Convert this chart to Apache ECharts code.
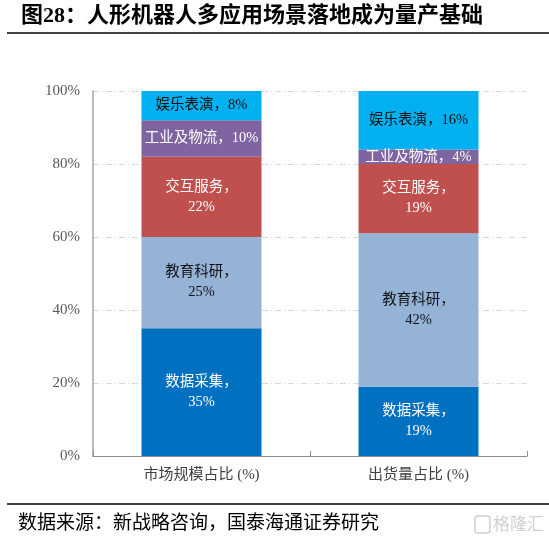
<!DOCTYPE html>
<html>
<head>
<meta charset="utf-8">
<script src="https://cdn.jsdelivr.net/npm/echarts@6/dist/echarts.min.js"></script>
<style>
  html, body { margin: 0; padding: 0; background: #fff; }
  #chart { width: 549px; height: 548px; }
</style>
</head>
<body>
<div id="chart"></div>
<script>
const categories = ["市场规模占比 (%)", "出货量占比 (%)"];
const segmentNames = ["数据采集", "教育科研", "交互服务", "工业及物流", "娱乐表演"];
const dataCollection = [35, 19];
const education = [25, 42];
const interaction = [22, 19];
const logistics = [10, 4];
const entertainment = [8, 16];
const yTicks = [0, 20, 40, 60, 80, 100];

const segmentValues = [dataCollection, education, interaction, logistics, entertainment];
const segmentColors = ["#0070C0", "#95B3D7", "#C0504D", "#8064A2", "#00B0F0"];
const labelColors = ["#ffffff", "#111111", "#ffffff", "#ffffff", "#111111"];
// small segments get their label on one line
const oneLine = [false, false, false, true, true];

const serif = "'Liberation Serif', 'Noto Sans CJK SC', serif";

const renderChart = () => {
  const chart = echarts.init(document.getElementById("chart"));

  const series = segmentNames.map((name, i) => ({
    name: name,
    type: "bar",
    stack: "total",
    barWidth: 120,
    data: segmentValues[i],
    itemStyle: { color: segmentColors[i] },
    label: {
      show: true,
      position: "inside",
      color: labelColors[i],
      fontFamily: serif,
      fontSize: 14.5,
      lineHeight: 20,
      formatter: (p) => p.seriesName + "，" + (oneLine[i] ? "" : "\n") + p.value + "%",
    },
  }));

  const option = {
    animation: false,
    grid: {
      left: 93,
      right: 22,
      top: 91,
      bottom: 92,
      containLabel: false,
      outerBoundsMode: "none",
    },
    xAxis: {
      type: "category",
      data: categories,
      axisLine: { lineStyle: { color: "#8c8c8c", width: 1 } },
      axisTick: { show: true, inside: true, length: 5, lineStyle: { color: "#8c8c8c" } },
      axisLabel: {
        color: "#404040",
        fontFamily: serif,
        fontSize: 15,
        margin: 12,
      },
    },
    yAxis: {
      type: "value",
      min: yTicks[0],
      max: yTicks[yTicks.length - 1],
      interval: 20,
      axisLine: { show: true, lineStyle: { color: "#a6a6a6", width: 1.5 } },
      axisTick: { show: false },
      axisLabel: {
        color: "#595959",
        fontFamily: serif,
        fontSize: 15,
        margin: 13,
        formatter: "{value}%",
      },
      splitLine: {
        show: true,
        lineStyle: { color: "#d9d9d9", type: [6, 3, 1, 3], width: 1 },
      },
    },
    series: series,
    graphic: [
      {
        type: "text",
        left: 21,
        top: 5,
        style: {
          text: "图28：人形机器人多应用场景落地成为量产基础",
          fontFamily: serif,
          fontWeight: "bold",
          fontSize: 22,
          fill: "#000",
        },
      },
      {
        type: "line",
        shape: { x1: 7, y1: 33, x2: 549, y2: 33 },
        style: { stroke: "#000", lineWidth: 1.5 },
      },
      {
        type: "line",
        shape: { x1: 7, y1: 504, x2: 549, y2: 504 },
        style: { stroke: "#000", lineWidth: 1.5 },
      },
      {
        type: "text",
        left: 18,
        top: 515,
        style: {
          text: "数据来源：新战略咨询，国泰海通证券研究",
          fontFamily: serif,
          fontSize: 19,
          fill: "#000",
        },
      },
      {
        type: "rect",
        shape: { x: 475, y: 516, width: 15, height: 17, r: 3 },
        style: { fill: "none", stroke: "#cfcfcf", lineWidth: 1.5 },
      },
      {
        type: "text",
        left: 493,
        top: 515,
        style: {
          text: "格隆汇",
          fontFamily: "'Noto Sans CJK SC', sans-serif",
          fontSize: 17,
          fill: "#d0d0d0",
        },
      },
    ],
  };

  chart.setOption(option);
};

document.addEventListener("DOMContentLoaded", renderChart);
</script>
</body>
</html>
